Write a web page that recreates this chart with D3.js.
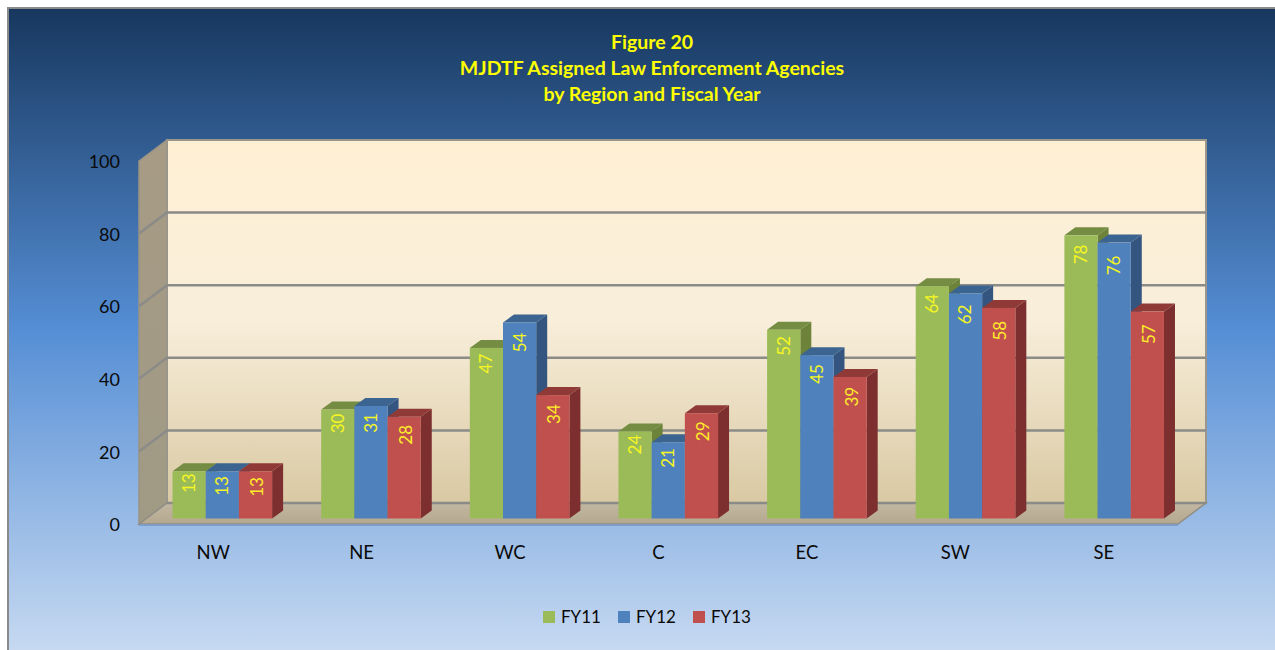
<!DOCTYPE html>
<html lang="en">

<head>
    <meta charset="UTF-8">
    <style>
        html, body { margin: 0; padding: 0; background: #fff; }
        svg { display: block; }
        text { font-family: Lato, "Open Sans", sans-serif; }
    </style>
</head>

<body>
    <svg width="1275" height="650"></svg>
    <script src="https://d3js.org/d3.v7.min.js"></script>
    <script>
        const regions = ["NW", "NE", "WC", "C", "EC", "SW", "SE"]
        const years = ["FY11", "FY12", "FY13"]
        const fy11 = [13, 30, 47, 24, 52, 64, 78]
        const fy12 = [13, 31, 54, 21, 45, 62, 76]
        const fy13 = [13, 28, 34, 29, 39, 58, 57]
        const yTicks = [0, 20, 40, 60, 80, 100]
        const titleLines = ["Figure 20", "MJDTF Assigned Law Enforcement Agencies", "by Region and Fiscal Year"]

        const seriesValues = [fy11, fy12, fy13]
        const faceColors = [
            { front: "#9bbb59", top: "#748d42", side: "#6c8339" },
            { front: "#4f81bd", top: "#3c6490", side: "#345580" },
            { front: "#c0504d", top: "#903a38", side: "#7c2f2e" }
        ]
        const labelColors = ["#f6f622", "#f6f622", "#ffec2a"]

        const svg = d3.select("svg")

        // wall box: front plane, the back wall is moved by depthX/depthY
        const depthX = 28, depthY = -21
        const left = 139, right = 1178, floorY = 524, topY = 161

        const y = d3.scaleLinear().domain([0, 100]).range([floorY, topY])
        const x = d3.scaleBand().domain(regions).range([left, right])

        // bars stand a bit inside the box
        const barBase = 518.5, barLeft = 148, barRight = 1188.5
        const barDepthX = 11, barDepthY = -8
        const barY = d3.scaleLinear().domain([0, 100]).range([barBase, barBase - 363])
        const barX = d3.scaleBand().domain(regions).range([barLeft, barRight])
            .paddingInner(0.33).paddingOuter(0.165)
        const seriesX = d3.scaleBand().domain(years).range([0, barX.bandwidth()])

        const defs = svg.append("defs")

        function addGradient(id, stops) {
            const g = defs.append("linearGradient").attr("id", id)
                .attr("x1", 0).attr("y1", 0).attr("x2", 0).attr("y2", 1)
            stops.forEach(s => g.append("stop").attr("offset", s[0]).attr("stop-color", s[1]))
        }
        addGradient("bg", [[0, "#17375e"], [0.5, "#558ed5"], [1, "#c6d9f1"]])
        addGradient("wall", [[0, "#fff0d4"], [0.5, "#f8eeda"], [1, "#d9c9a3"]])
        addGradient("sidewall", [[0, "#a79b85"], [1, "#a09a85"]])
        addGradient("floor", [[0, "#c2b7a2"], [1, "#b5a88f"]])

        // background, the frame only shows on the top and left edges
        svg.append("rect")
            .attr("x", 8).attr("y", 8).attr("width", 1267).attr("height", 642)
            .attr("fill", "url(#bg)")
        svg.append("path")
            .attr("d", "M8,650V8H1275")
            .attr("fill", "none")
            .attr("stroke", "#8a8a8a").attr("stroke-width", 2)

        const poly = pts => pts.map(p => p.join(",")).join(" ")

        // side wall, back wall, floor
        svg.append("polygon")
            .attr("points", poly([[left, topY], [left + depthX, topY + depthY], [left + depthX, floorY + depthY], [left, floorY]]))
            .attr("fill", "url(#sidewall)").attr("stroke", "#9a9484").attr("stroke-width", 1.5)
        svg.append("rect")
            .attr("x", left + depthX).attr("y", topY + depthY)
            .attr("width", right - left).attr("height", floorY - topY)
            .attr("fill", "url(#wall)").attr("stroke", "#9a968c").attr("stroke-width", 2)
        svg.append("polygon")
            .attr("points", poly([[left, floorY], [left + depthX, floorY + depthY], [right + depthX, floorY + depthY], [right, floorY]]))
            .attr("fill", "url(#floor)").attr("stroke", "#8f8d85").attr("stroke-width", 1.5)
        svg.append("line")
            .attr("x1", left).attr("x2", right).attr("y1", floorY + 1).attr("y2", floorY + 1)
            .attr("stroke", "#7f9cc4").attr("stroke-width", 2)

        // gridlines on the side wall and the back wall
        const grid = svg.append("g").attr("fill", "none").attr("stroke", "#8b8b88").attr("stroke-width", 2.5)
        grid.selectAll("path")
            .data(yTicks.filter(d => d > 0 && d < 100))
            .join("path")
            .attr("d", d => `M${left},${y(d)}L${left + depthX},${y(d) + depthY}H${right + depthX}`)
        grid.append("path")
            .attr("d", `M${left + depthX},${floorY + depthY}H${right + depthX}`)

        // bars, painted left to right so the later front covers the earlier side
        const barW = seriesX.bandwidth()
        regions.forEach((region, i) => {
            const group = svg.append("g").attr("transform", `translate(${barX(region)},0)`)
            years.forEach((year, s) => {
                const v = seriesValues[s][i]
                const x0 = seriesX(year), x1 = x0 + barW, top = barY(v)
                const c = faceColors[s]
                group.append("polygon")
                    .attr("points", poly([[x1, top], [x1 + barDepthX, top + barDepthY], [x1 + barDepthX, barBase + barDepthY], [x1, barBase]]))
                    .attr("fill", c.side)
                group.append("polygon")
                    .attr("points", poly([[x0, top], [x0 + barDepthX, top + barDepthY], [x1 + barDepthX, top + barDepthY], [x1, top]]))
                    .attr("fill", c.top)
                group.append("rect")
                    .attr("x", x0).attr("y", top)
                    .attr("width", barW).attr("height", barBase - top)
                    .attr("fill", c.front)
            })
        })

        // value labels, turned to read upward
        const labelDrop = [v => 10.5 + 0.11 * v, v => 13 + 0.13 * v, v => 13.5 + 0.16 * v]
        regions.forEach((region, i) => {
            years.forEach((year, s) => {
                const v = seriesValues[s][i]
                const lx = barX(region) + seriesX(year) + barW / 2 + (s == 2 ? 1.5 : 0)
                const ly = barY(v) + labelDrop[s](v)
                svg.append("text")
                    .attr("transform", `translate(${lx},${ly}) rotate(-90)`)
                    .attr("text-anchor", "middle").attr("dy", "0.35em")
                    .attr("font-size", 17)
                    .attr("fill", labelColors[s])
                    .text(v)
            })
        })

        // axes
        const yAxis = svg.append("g")
            .attr("transform", `translate(${left - 13},1)`)
            .call(d3.axisLeft(y).tickValues(yTicks).tickSize(0).tickPadding(6))
        const xAxis = svg.append("g")
            .attr("transform", `translate(0,${floorY + 16})`)
            .call(d3.axisBottom(x).tickSize(0).tickPadding(6))
        yAxis.select(".domain").remove()
        xAxis.select(".domain").remove()
        yAxis.selectAll("text").attr("font-size", 18).attr("fill", "#0a0a0a").style("font-family", "Lato")
        xAxis.selectAll("text").attr("font-size", 18.5).attr("fill", "#0a0a0a").style("font-family", "Lato")

        // title
        svg.append("g").selectAll("text")
            .data(titleLines)
            .join("text")
            .attr("x", 652)
            .attr("y", (d, i) => 49 + i * 26)
            .attr("text-anchor", "middle")
            .attr("font-size", 19.5)
            .attr("font-weight", "bold")
            .attr("fill", "#ffff00")
            .text(d => d)

        // legend
        const legend = svg.append("g").selectAll("g")
            .data(years)
            .join("g")
            .attr("transform", (d, i) => `translate(${543 + i * 75},611)`)
        legend.append("rect")
            .attr("width", 12).attr("height", 12)
            .attr("fill", (d, i) => faceColors[i].front)
        legend.append("text")
            .attr("x", 18).attr("y", 12)
            .attr("font-size", 17).attr("fill", "#0a0a0a")
            .text(d => d)
    </script>
</body>

</html>
